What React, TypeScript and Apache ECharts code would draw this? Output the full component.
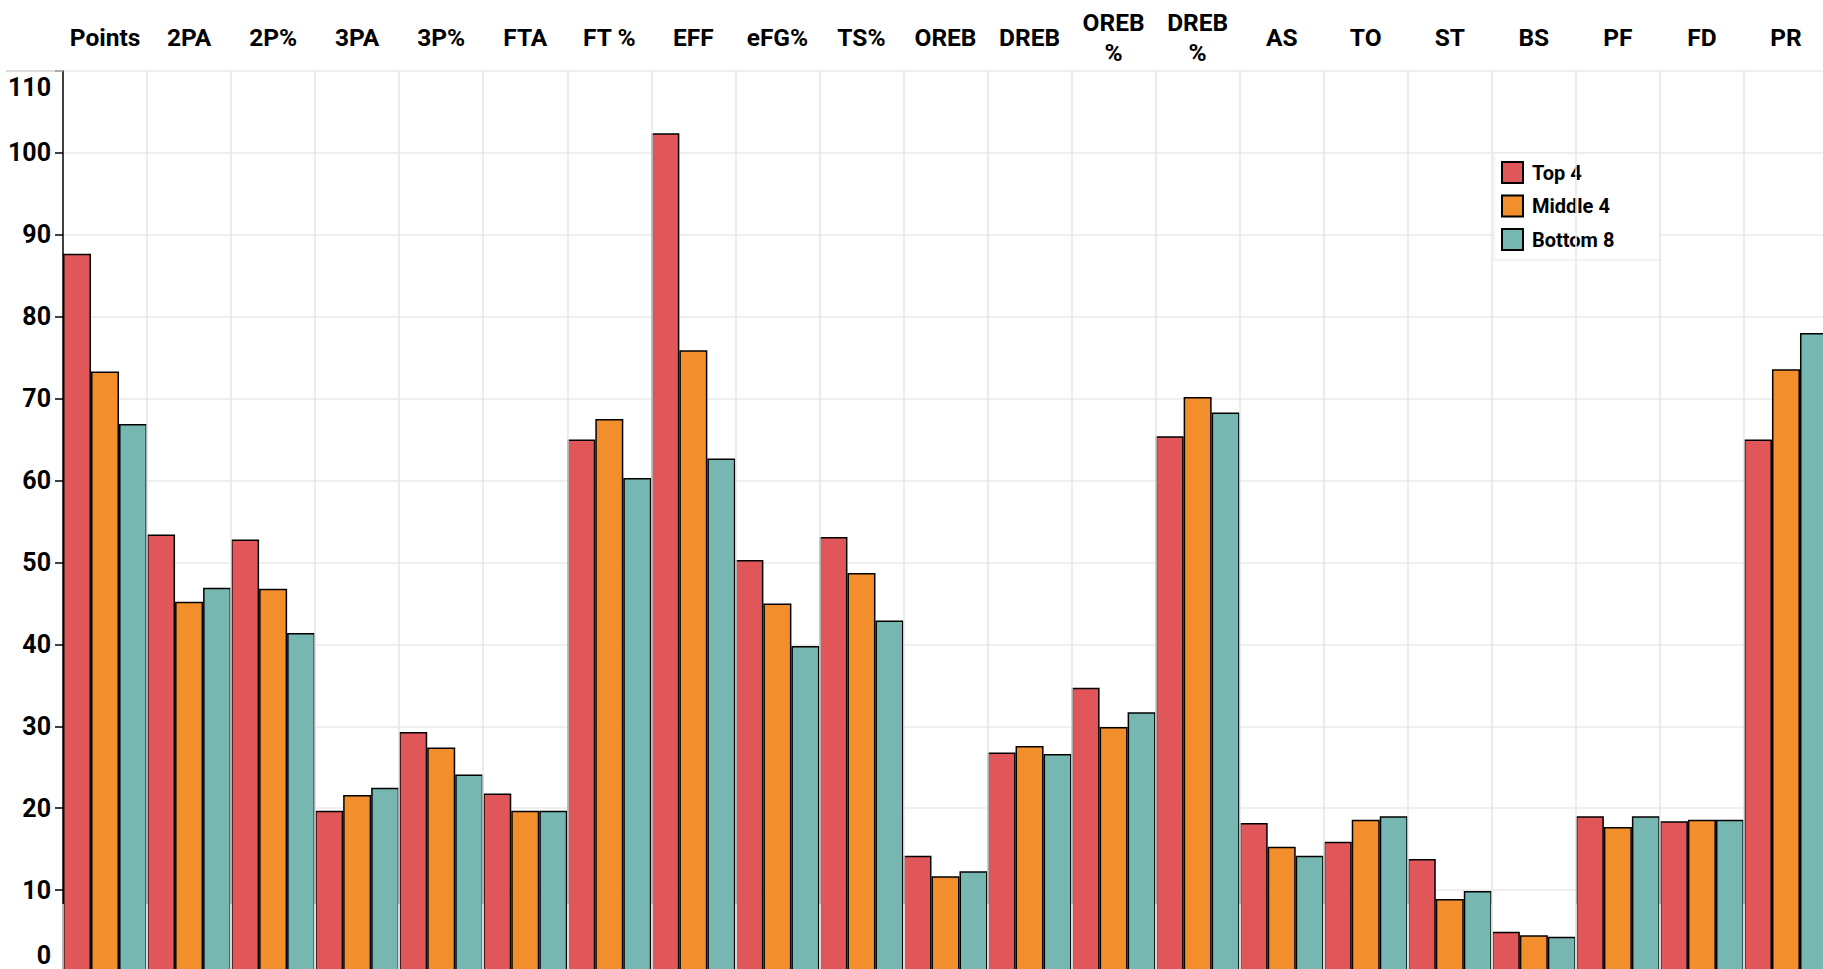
import React, { useEffect, useRef } from "react";
import * as echarts from "echarts";

const categories = ["Points", "2PA", "2P%", "3PA", "3P%", "FTA", "FT %", "EFF", "eFG%", "TS%", "OREB", "DREB", "OREB\n%", "DREB\n%", "AS", "TO", "ST", "BS", "PF", "FD", "PR"];
const seriesNames = ["Top 4", "Middle 4", "Bottom 8"];
const top4 = [87.7, 53.4, 52.8, 19.7, 29.3, 21.8, 65.0, 102.4, 50.3, 53.1, 14.2, 26.8, 34.7, 65.4, 18.2, 15.9, 13.8, 4.9, 19.0, 18.4, 65.0];
const middle4 = [73.3, 45.2, 46.8, 21.6, 27.4, 19.7, 67.5, 75.9, 45.0, 48.7, 11.7, 27.6, 29.9, 70.2, 15.3, 18.6, 8.9, 4.5, 17.7, 18.6, 73.6];
const bottom8 = [66.9, 46.9, 41.4, 22.5, 24.1, 19.7, 60.3, 62.7, 39.8, 42.9, 12.3, 26.6, 31.7, 68.3, 14.2, 19.0, 9.9, 4.3, 19.0, 18.6, 78.0];
const colors = ["#E15759", "#F28E2B", "#76B7B2"];
const yMin = 0;
const yMax = 110;

export default function App() {
  const ref = useRef<HTMLDivElement>(null);
  useEffect(() => {
    if (!ref.current) return;
    const chart = echarts.init(ref.current, null, { renderer: "svg" });
    const font = "Roboto";
    const values = [top4, middle4, bottom8];
    const yLabelStyle = { color: "#000", fontFamily: font, fontWeight: "bold", fontSize: 25 };
    chart.setOption({
      animation: false,
      backgroundColor: "#fff",
      grid: { left: 63, top: 71, right: -5, bottom: -3, containLabel: false, outerBoundsMode: "none" },
      xAxis: {
        type: "category",
        position: "top",
        data: categories,
        z: 5,
        axisLine: { show: true, lineStyle: { color: "#d0d0d0", width: 1.5 } },
        axisTick: { show: true, interval: 0, length: 68, lineStyle: { color: "#e6e6e6", width: 1.5 } },
        splitLine: { show: true, interval: 0, showMinLine: false, lineStyle: { color: "#e6e6e6", width: 1.5 } },
        axisLabel: {
          interval: 0,
          color: "#000",
          fontFamily: font,
          fontWeight: "bold",
          fontSize: 24.5,
          lineHeight: 30,
          verticalAlign: "middle",
          margin: 34,
        },
      },
      yAxis: {
        type: "value",
        min: yMin,
        max: yMax,
        interval: 10,
        axisLine: { show: true, lineStyle: { color: "#000", width: 1.5 } },
        axisTick: { show: true, length: 8, lineStyle: { color: "#000", width: 1.5 } },
        splitLine: { show: true, lineStyle: { color: "#efefef", width: 2 } },
        axisLabel: {
          ...yLabelStyle,
          margin: 12,
          formatter: (v: number) => (v === yMin ? "{lo|" + v + "}" : v === yMax ? "{hi|" + v + "}" : String(v)),
          rich: {
            lo: { ...yLabelStyle, padding: [0, 0, 34, 0] },
            hi: { ...yLabelStyle, padding: [32, 0, 0, 0] },
          },
        },
      },
      legend: {
        orient: "vertical",
        left: 1494,
        top: 153,
        padding: [8, 46, 9, 7],
        itemWidth: 21,
        itemHeight: 21,
        itemGap: 10.5,
        backgroundColor: "#fff",
        borderColor: "#e6e6e6",
        borderWidth: 1,
        icon: "rect",
        data: seriesNames,
        textStyle: { color: "#000", fontFamily: font, fontWeight: "bold", fontSize: 20, lineHeight: 21, padding: [0, 0, 0, 4] },
      },
      graphic: [
        { type: "line", shape: { x1: 6, y1: 71, x2: 63, y2: 71 }, style: { stroke: "#d0d0d0", lineWidth: 1.5 }, z: 5 },
      ],
      series: seriesNames.map((name, i) => ({
        name,
        type: "bar",
        data: values[i],
        barGap: "0%",
        barCategoryGap: "0%",
        itemStyle: { color: colors[i], borderColor: "#000", borderWidth: 1.5 },
      })),
    });
    return () => chart.dispose();
  }, []);
  return (
    <div
      ref={ref}
      style={{ position: "fixed", left: 0, top: 0, width: 1823, height: 969, overflow: "hidden" }}
    />
  );
}
